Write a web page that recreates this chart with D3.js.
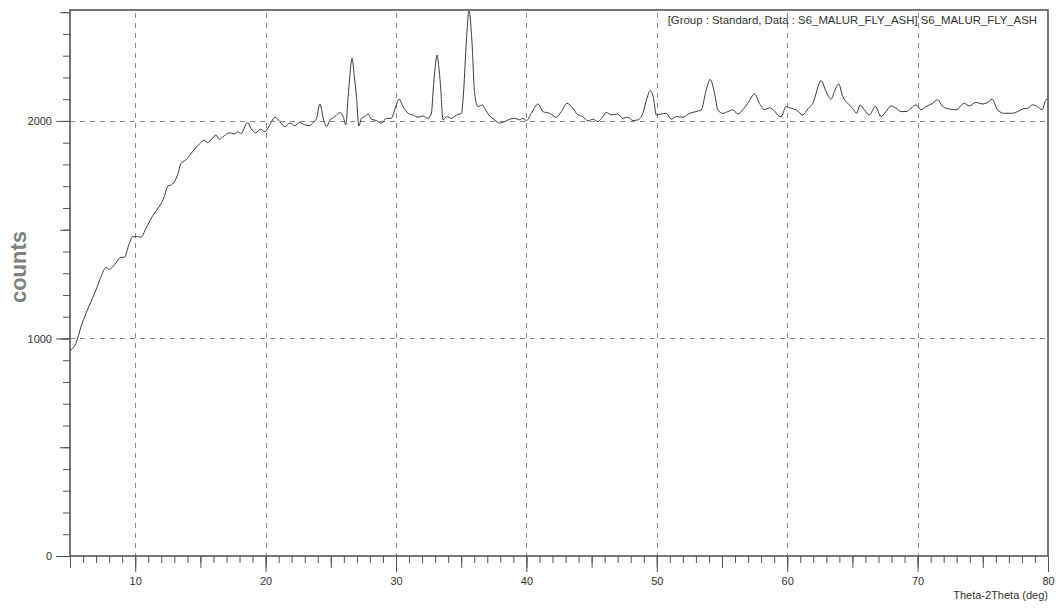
<!DOCTYPE html>
<html>
<head>
<meta charset="utf-8">
<script src="https://cdn.jsdelivr.net/npm/d3@7"></script>
<style>
  html, body { margin: 0; padding: 0; background: #fff; }
  svg { display: block; font-family: "Liberation Sans", Arial, sans-serif; }
</style>
</head>
<body>
<svg id="chart" width="1056" height="608"></svg>
<script>
// Diffraction scan: 2-theta angle (deg) and detector counts
const theta = [
  5.00, 5.08, 5.46, 5.84, 6.23, 6.61, 6.99, 7.38, 7.76, 8.01, 8.40, 8.91, 9.16, 9.55, 9.80,
  10.18, 10.44, 10.82, 11.46, 11.84, 12.23, 12.48, 12.87, 13.25, 13.51, 13.89, 14.40, 14.91,
  15.29, 15.55, 15.93, 16.19, 16.44, 16.82, 17.21, 17.59, 17.85, 18.10, 18.62, 18.87, 19.25,
  19.60, 19.94, 20.33, 20.71, 21.09, 21.48, 21.86, 22.24, 22.62, 23.01, 23.39, 23.64, 23.90,
  24.16, 24.46, 24.67, 24.92, 25.31, 25.69, 25.95, 26.15, 26.33, 26.45, 26.63, 26.80, 26.97,
  27.15, 27.35, 27.60, 27.86, 28.11, 28.50, 28.88, 29.27, 29.65, 29.90, 30.24, 30.54, 30.93,
  31.31, 31.69, 32.07, 32.46, 32.71, 32.89, 33.00, 33.15, 33.28, 33.40, 33.61, 33.87, 34.25,
  34.63, 35.02, 35.19, 35.40, 35.60, 35.83, 36.03, 36.29, 36.62, 36.80, 37.18, 37.57, 37.95,
  38.33, 38.72, 39.10, 39.48, 39.74, 40.00, 40.38, 40.89, 41.27, 41.78, 42.30, 42.68, 43.11,
  43.57, 43.95, 44.33, 44.72, 45.10, 45.48, 45.87, 46.12, 46.51, 47.01, 47.40, 47.78, 48.17,
  48.55, 48.93, 49.24, 49.50, 49.75, 49.96, 50.34, 50.72, 51.11, 51.49, 52.00, 52.51, 53.02,
  53.41, 53.79, 54.09, 54.43, 54.68, 55.06, 55.45, 55.83, 56.21, 56.59, 56.98, 57.49, 57.87,
  58.26, 58.64, 59.02, 59.35, 59.53, 59.92, 60.30, 60.68, 61.19, 61.58, 61.96, 62.60, 62.98,
  63.37, 63.62, 63.95, 64.26, 64.64, 65.02, 65.33, 65.59, 65.92, 66.30, 66.76, 67.20, 67.58,
  67.96, 68.35, 68.73, 69.11, 69.50, 69.88, 70.26, 70.65, 71.15, 71.54, 71.92, 72.43, 72.94,
  73.58, 73.97, 74.48, 74.99, 75.37, 75.71, 76.13, 76.65, 77.16, 77.67, 78.05, 78.44, 78.82,
  79.21, 79.54, 79.85, 80.00
];
const counts = [
  943, 947, 978, 1054, 1116, 1169, 1223, 1284, 1327, 1318, 1338, 1373, 1373, 1437, 1468,
  1468, 1465, 1506, 1575, 1606, 1652, 1698, 1710, 1752, 1805, 1821, 1859, 1893,
  1910, 1900, 1921, 1936, 1916, 1931, 1946, 1940, 1950, 1942, 1992, 1966, 1946,
  1962, 1951, 1982, 2017, 1997, 1974, 1990, 1978, 1993, 1982, 1978, 1993, 2010,
  2078, 2002, 1974, 2002, 2020, 2038, 2020, 1982, 2112, 2200, 2288, 2205, 2112,
  1977, 2012, 2020, 2032, 2008, 2002, 1990, 2012, 2012, 2051, 2100, 2066, 2035,
  2027, 2017, 2023, 2012, 2035, 2173, 2245, 2303, 2250, 2173, 2005, 2020, 2012,
  2027, 2035, 2142, 2372, 2507, 2357, 2127, 2066, 2074, 2058, 2023, 2005, 1990,
  1997, 2008, 2012, 2005, 2012, 2002, 2035, 2078, 2043, 2035, 2017, 2043, 2081,
  2058, 2028, 2020, 2000, 2008, 1997, 2020, 2040, 2028, 2032, 2012, 2017, 2002,
  2005, 2035, 2104, 2139, 2104, 2028, 2032, 2035, 2008, 2020, 2017, 2035, 2043,
  2051, 2142, 2191, 2127, 2051, 2035, 2043, 2051, 2032, 2051, 2081, 2124, 2081,
  2051, 2060, 2045, 2023, 2020, 2066, 2058, 2051, 2028, 2055, 2081, 2185, 2135,
  2100, 2135, 2170, 2112, 2081, 2058, 2035, 2073, 2051, 2028, 2066, 2020, 2043,
  2069, 2058, 2043, 2043, 2058, 2074, 2051, 2066, 2081, 2097, 2066, 2055, 2051,
  2081, 2069, 2085, 2078, 2085, 2100, 2051, 2035, 2035, 2043, 2055, 2058, 2074,
  2066, 2051, 2097, 2100
];

// Axis ticks and labels
const xLabelTicks = [10, 20, 30, 40, 50, 60, 70, 80];
const yLabelTicks = [0, 1000, 2000];
const xGridValues = [10, 20, 30, 40, 50, 60, 70];
const yGridValues = [1000, 2000];
const xTitle = "Theta-2Theta (deg)";
const yTitle = "counts";
const legendText = "[Group : Standard, Data : S6_MALUR_FLY_ASH] S6_MALUR_FLY_ASH";

const svg = d3.select("#chart");
const plotLeft = 70, plotRight = 1048, plotTop = 10, plotBottom = 556;

const x = d3.scaleLinear().domain([5, 80]).range([plotLeft, plotRight]);
const y = d3.scaleLinear().domain([0, 2510]).range([plotBottom, plotTop]);

const axisColor = "#555";
const textColor = "#333";

// Dashed grid
const grid = svg.append("g").attr("stroke", "#8a8a8a").attr("stroke-width", 1)
  .attr("stroke-dasharray", "5,5").attr("shape-rendering", "crispEdges");
grid.selectAll("line.v").data(xGridValues).join("line")
  .attr("class", "v")
  .attr("x1", d => Math.round(x(d)) + 0.5).attr("x2", d => Math.round(x(d)) + 0.5)
  .attr("y1", plotTop + 3).attr("y2", plotBottom);
grid.selectAll("line.h").data(yGridValues).join("line")
  .attr("class", "h")
  .attr("x1", plotLeft).attr("x2", plotRight)
  .attr("y1", d => Math.round(y(d)) + 0.5).attr("y2", d => Math.round(y(d)) + 0.5);

// Bottom axis: minor (1 deg), medium (5 deg), major (10 deg, labelled)
function styleAxis(g) {
  g.select(".domain").remove();
  g.selectAll(".tick line").attr("stroke", axisColor);
  g.selectAll(".tick text").attr("fill", textColor).attr("font-size", 11);
}
svg.append("g").attr("transform", `translate(0,${plotBottom})`)
  .call(d3.axisBottom(x).tickValues(d3.range(5, 81, 1)).tickSize(7).tickFormat(""))
  .call(styleAxis);
svg.append("g").attr("transform", `translate(0,${plotBottom})`)
  .call(d3.axisBottom(x).tickValues(d3.range(5, 81, 5)).tickSize(12).tickFormat(""))
  .call(styleAxis);
svg.append("g").attr("transform", `translate(0,${plotBottom})`)
  .call(d3.axisBottom(x).tickValues(xLabelTicks).tickSize(16).tickPadding(5).tickFormat(d3.format("d")))
  .call(styleAxis);

// Left axis: minor (100), medium (500), major (1000, labelled)
svg.append("g").attr("transform", `translate(${plotLeft},0)`)
  .call(d3.axisLeft(y).tickValues(d3.range(0, 2501, 100)).tickSize(7).tickFormat(""))
  .call(styleAxis);
svg.append("g").attr("transform", `translate(${plotLeft},0)`)
  .call(d3.axisLeft(y).tickValues(d3.range(0, 2501, 500)).tickSize(10).tickFormat(""))
  .call(styleAxis);
svg.append("g").attr("transform", `translate(${plotLeft},0)`)
  .call(d3.axisLeft(y).tickValues(yLabelTicks).tickSize(14).tickPadding(4).tickFormat(d3.format("d")))
  .call(styleAxis);

// Scan trace
const pts = theta.map((t, i) => [t, counts[i]]);
const line = d3.line().x(d => x(d[0])).y(d => y(d[1])).curve(d3.curveMonotoneX);
svg.append("path").datum(pts)
  .attr("d", line)
  .attr("fill", "none")
  .attr("stroke", "#3a3a3a")
  .attr("stroke-width", 1)
  .attr("stroke-linejoin", "round");

// Plot frame
svg.append("rect")
  .attr("x", plotLeft).attr("y", plotTop)
  .attr("width", plotRight - plotLeft).attr("height", plotBottom - plotTop)
  .attr("fill", "none").attr("stroke", axisColor).attr("stroke-width", 1.6);

// Titles and dataset label
svg.append("text")
  .attr("x", plotRight).attr("y", 599)
  .attr("text-anchor", "end").attr("font-size", 11).attr("fill", textColor)
  .text(xTitle);

svg.append("text")
  .attr("transform", "translate(26,267) rotate(-90)")
  .attr("text-anchor", "middle").attr("font-size", 22).attr("font-weight", "bold")
  .attr("fill", "#808080")
  .text(yTitle);

svg.append("text")
  .attr("x", 1037).attr("y", 23.5)
  .attr("text-anchor", "end").attr("font-size", 11.4).attr("fill", textColor)
  .text(legendText);
</script>
</body>
</html>
